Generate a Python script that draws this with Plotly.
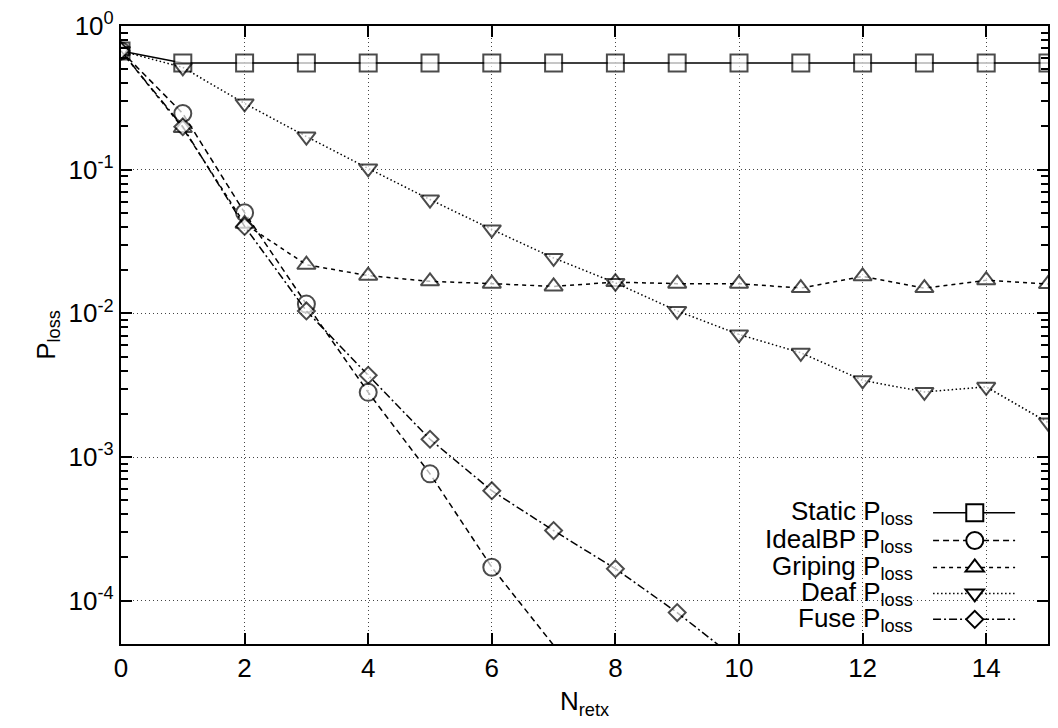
import plotly.graph_objects as go

# ---------------- data ----------------
n_retx = [0, 1, 2, 3, 4, 5, 6, 7, 8, 9, 10, 11, 12, 13, 14, 15]
static_ploss = [0.671, 0.553, 0.553, 0.553, 0.553, 0.553, 0.553, 0.553,
                0.553, 0.553, 0.553, 0.553, 0.553, 0.553, 0.553, 0.553]
idealbp_ploss = [0.671, 0.246, 0.0502, 0.0116, 0.00282, 0.000764, 0.000171, 0.000049]
griping_ploss = [0.671, 0.195, 0.042, 0.0218, 0.0183, 0.0167, 0.0161, 0.0154,
                 0.0165, 0.0161, 0.0161, 0.0150, 0.0181, 0.0150, 0.0170, 0.0160]
deaf_ploss = [0.671, 0.515, 0.289, 0.170, 0.102, 0.062, 0.0384, 0.0243,
              0.0163, 0.0104, 0.00713, 0.00532, 0.00342, 0.00284, 0.00308, 0.00174]
fuse_ploss = [0.671, 0.199, 0.0403, 0.0104, 0.00371, 0.00133, 0.000583, 0.000308,
              0.000167, 0.0000827, 0.000038]

series_names = ["Static", "IdealBP", "Griping", "Deaf", "Fuse"]
x_tickvals = [0, 2, 4, 6, 8, 10, 12, 14]
x_ticktext = ["0", "2", "4", "6", "8", "10", "12", "14"]
y_tickvals = [1e-4, 1e-3, 1e-2, 1e-1, 1]
y_ticktext = ["10<sup>-4</sup>", "10<sup>-3</sup>", "10<sup>-2</sup>", "10<sup>-1</sup>", "10<sup>0</sup>"]
y_min, y_max = 5e-5, 1.0
x_min, x_max = 0, 15

FONT = "Liberation Sans, Arial, Helvetica, sans-serif"

styles = {
    "Static":  dict(symbol="square", size=17, dash="solid"),
    "IdealBP": dict(symbol="circle", size=17, dash="6px,4px"),
    "Griping": dict(symbol="triangle-up", size=16, dash="4px,4px"),
    "Deaf":    dict(symbol="triangle-down", size=16, dash="1.5px,2.5px"),
    "Fuse":    dict(symbol="diamond", size=13, dash="8px,3px,2px,3px"),
}
data = {
    "Static": static_ploss,
    "IdealBP": idealbp_ploss,
    "Griping": griping_ploss,
    "Deaf": deaf_ploss,
    "Fuse": fuse_ploss,
}

fig = go.Figure()

for name in series_names:
    vals = data[name]
    st = styles[name]
    sizes = [st["size"] if v >= y_min else 0 for v in vals]
    fig.add_trace(go.Scatter(
        x=n_retx[:len(vals)], y=vals, name=name + " P<sub>loss</sub>",
        mode="lines+markers", showlegend=False,
        line=dict(color="black", width=1.5, dash=st["dash"]),
        marker=dict(symbol=st["symbol"], size=sizes, color="white",
                    line=dict(color="black", width=2)),
    ))

# opaque key box (covers grid only)
fig.add_shape(type="rect", xref="paper", yref="paper", x0=0.645, x1=1.0, y0=0.0, y1=0.236,
              fillcolor="white", line=dict(width=0), layer="between")

# ---------- gnuplot-style key (text left, sample right) ----------
key_rows_y = [0.2125, 0.1674, 0.1238, 0.0818, 0.0399]
key_line_x = [0.876, 0.9645]
key_mark_x = 0.921
key_paths = {
    "triangle-up": "M -9.2,-4 L 9.2,-4 L 0,8 Z",
    "triangle-down": "M -9.2,4 L 9.2,4 L 0,-8 Z",
    "diamond": "M 8.5,0 L 0,8.5 L -8.5,0 L 0,-8.5 Z",
}
for name, ky in zip(series_names, key_rows_y):
    st = styles[name]
    fig.add_shape(type="line", xref="paper", yref="paper", x0=key_line_x[0], x1=key_line_x[1],
                  y0=ky, y1=ky, line=dict(color="black", width=1.5, dash=st["dash"]), layer="above")
    common = dict(xref="paper", yref="paper", xsizemode="pixel", ysizemode="pixel",
                  xanchor=key_mark_x, yanchor=ky, fillcolor="white",
                  line=dict(color="black", width=2), layer="above")
    half = st["size"] / 2
    if st["symbol"] == "square":
        fig.add_shape(type="rect", x0=-half, x1=half, y0=-half, y1=half, **common)
    elif st["symbol"] == "circle":
        fig.add_shape(type="circle", x0=-half, x1=half, y0=-half, y1=half, **common)
    else:
        fig.add_shape(type="path", path=key_paths[st["symbol"]], **common)
    fig.add_annotation(
        x=0.857, y=ky, xref="paper", yref="paper", xanchor="right", yanchor="middle",
        text=name + " P<sub>loss</sub>", showarrow=False,
        font=dict(family=FONT, size=26, color="black"),
    )

minor_y = [k * 10.0 ** e for e in (-4, -3, -2, -1) for k in range(2, 10)]

fig.update_layout(
    width=1058, height=728,
    margin=dict(l=121, r=8, t=24, b=84),
    paper_bgcolor="white", plot_bgcolor="white",
    font=dict(family=FONT, size=26, color="black"),
    xaxis=dict(
        range=[x_min, x_max], tickmode="array", tickvals=x_tickvals, ticktext=x_ticktext,
        ticks="inside", ticklen=11, tickwidth=1.8, tickcolor="black",
        showline=True, linecolor="black", linewidth=2.2, mirror="allticks",
        showgrid=True, gridcolor="#444", griddash="1px,3px", gridwidth=1.2,
        zeroline=False, tickfont=dict(size=26),
        title=dict(text="N<sub>retx</sub>", font=dict(size=26), standoff=10),
    ),
    yaxis=dict(
        type="log", range=[-4.30103, 0], tickmode="array", tickvals=y_tickvals, ticktext=y_ticktext,
        ticks="inside", ticklen=11, tickwidth=1.8, tickcolor="black",
        showline=True, linecolor="black", linewidth=2.2, mirror="allticks",
        showgrid=True, gridcolor="#444", griddash="1px,3px", gridwidth=1.2,
        zeroline=False, tickfont=dict(size=26),
        minor=dict(tickmode="array", tickvals=minor_y, ticks="inside", ticklen=7,
                   tickwidth=1.8, tickcolor="black", showgrid=False),
        title=dict(text="P<sub>loss</sub>", font=dict(size=26), standoff=6),
    ),
)

fig.write_html("out.html")
